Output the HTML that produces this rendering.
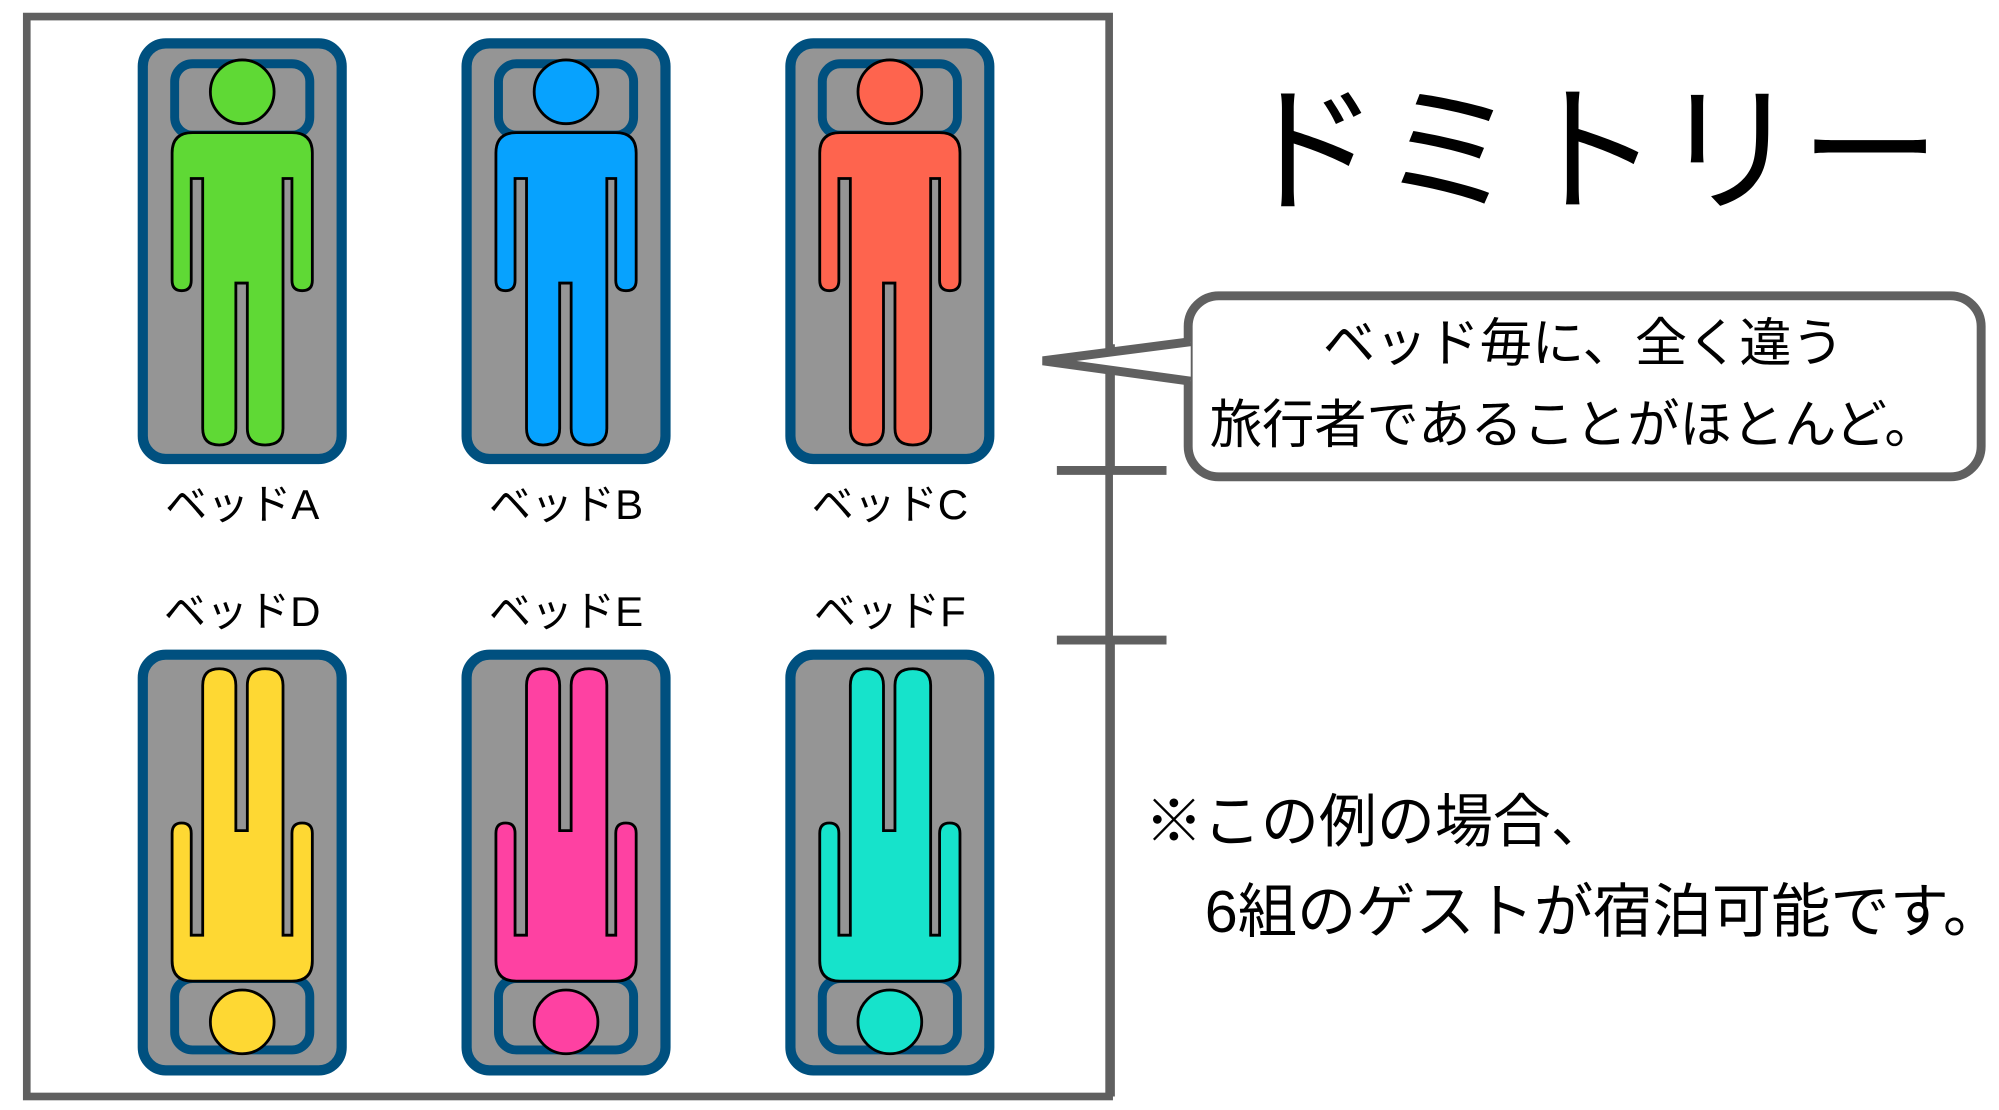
<!DOCTYPE html>
<html><head><meta charset="utf-8"><style>
html,body{margin:0;padding:0;background:#fff;}
svg{display:block;}
text{font-family:"Liberation Sans","Noto Sans CJK JP",sans-serif;fill:#000;}
</style></head><body>
<svg width="1999" height="1110" viewBox="0 0 1568 870.6" preserveAspectRatio="none" xmlns="http://www.w3.org/2000/svg">
<defs>
<g id="bed">
  <rect x="112" y="34" width="156" height="326" rx="18" fill="#959595" stroke="#00507f" stroke-width="8"/>
  <rect x="137" y="50" width="106" height="56" rx="14" fill="#959595" stroke="#00507f" stroke-width="7"/>
</g>
<g id="fig" stroke="#000" stroke-width="2.2">
  <circle cx="190" cy="72" r="25"/>
  <path d="M135 120 Q135 104 151 104 L229 104 Q245 104 245 120 L245 220 Q245 228 237 228 Q229 228 229 220 L229 140 L222 140 L222 336 Q222 349 208 349 Q194 349 194 336 L194 222 L185 222 L185 336 Q185 349 172 349 Q159 349 159 336 L159 140 L150 140 L150 220 Q150 228 142.5 228 Q135 228 135 220 Z"/>
</g>
</defs>
<rect x="21" y="13" width="849" height="847" fill="none" stroke="#606060" stroke-width="6"/>

<use href="#bed"/><use href="#fig" fill="#5fd935"/>
<g transform="translate(254,0)"><use href="#bed"/><use href="#fig" fill="#07a2fe"/></g>
<g transform="translate(508,0)"><use href="#bed"/><use href="#fig" fill="#fe644e"/></g>
<g transform="translate(0,873.5) scale(1,-1)"><use href="#bed"/><use href="#fig" fill="#fed833"/></g>
<g transform="translate(254,873.5) scale(1,-1)"><use href="#bed"/><use href="#fig" fill="#fe41a2"/></g>
<g transform="translate(508,873.5) scale(1,-1)"><use href="#bed"/><use href="#fig" fill="#16e3cb"/></g>

<g font-size="33" text-anchor="middle">
<text x="190" y="407">ベッドA</text>
<text x="444" y="407">ベッドB</text>
<text x="698" y="407">ベッドC</text>
<text x="190" y="491">ベッドD</text>
<text x="444" y="491">ベッドE</text>
<text x="698" y="491">ベッドF</text>
</g>

<text x="1247" y="157" font-size="110" text-anchor="middle">ドミトリー</text>

<line x1="829" y1="369" x2="915" y2="369" stroke="#606060" stroke-width="7"/>
<line x1="871" y1="270" x2="871" y2="369" stroke="#606060" stroke-width="7"/>
<line x1="829" y1="502" x2="915" y2="502" stroke="#606060" stroke-width="7"/>
<line x1="871" y1="502" x2="871" y2="860" stroke="#606060" stroke-width="7"/>

<rect x="932" y="232" width="622" height="142" rx="24" fill="#fff" stroke="#606060" stroke-width="7"/>
<path d="M934 268 L818 283 L934 299" fill="#fff" stroke="#606060" stroke-width="7" stroke-linejoin="miter"/>
<rect x="936" y="272" width="8" height="23" fill="#fff"/>
<g font-size="41" text-anchor="middle">
<text x="1242" y="283">ベッド毎に、全く違う</text>
<text x="1234" y="347">旅行者であることがほとんど。</text>
</g>

<text x="898" y="660" font-size="45.5">※この例の場合、</text>
<text x="945" y="731" font-size="46.5">6組のゲストが宿泊可能です。</text>
</svg>
</body></html>
